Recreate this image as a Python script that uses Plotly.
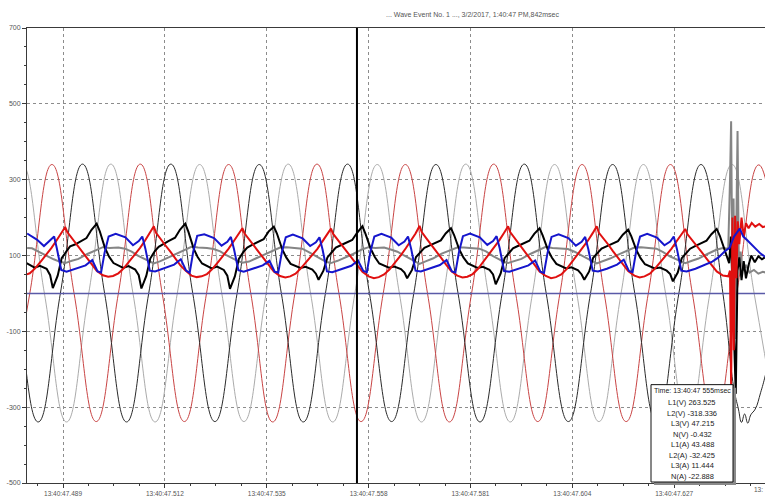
import plotly.graph_objects as go

# ---------------- time axis (ms within 13:40:47) ----------------
x_range = [480.87, 647.5]
tick_ms = [489, 512, 535, 558, 581, 604, 627]
tick_text = ["13:40:47.489", "13:40:47.512", "13:40:47.535", "13:40:47.558",
             "13:40:47.581", "13:40:47.604", "13:40:47.627"]
next_tick_text = "13:"
y_ticks = [-500, -300, -100, 100, 300, 500, 700]

cursor_ms = 555.37
title_text = "... Wave Event No. 1 ..., 3/2/2017, 1:40:47 PM,842msec"

# ---------------- voltages ----------------
l1v_t = [473.45, 478.4, 483.4, 488.4, 493.4, 498.4, 503.35, 508.35, 513.35, 518.3,
         523.3, 528.3, 533.3, 538.3, 543.25, 548.25, 553.25, 558.2, 563.2, 568.2,
         573.2, 578.2, 583.15, 588.15, 593.15, 598.1, 603.1, 608.1, 613.1, 618.1,
         623.05, 628.05, 633.05, 638.0,
         640.4, 641.5, 642.2, 642.9, 643.6, 644.3, 645.3, 646.5, 647.6, 650.0]
l1v = [340, 0, -339, 0, 341, 0, -339, 0, 341, 0,
       -338, 0, 340, 0, -339, 0, 341, 0, -338, 0,
       340, 0, -339, 0, 341, 0, -338, 0, 340, 0,
       -339, 0, 340, 0,
       -245, -305, -340, -318, -342, -320, -305, -262, -215, -90]

l2v_t = [476.5, 481.5, 486.5, 491.5, 496.5, 501.5, 506.45, 511.4, 516.4, 521.4,
         526.4, 531.4, 536.35, 541.35, 546.35, 551.3, 556.3, 561.3, 566.3, 571.3,
         576.25, 581.25, 586.25, 591.2, 596.2, 601.2, 606.2, 611.2, 616.15, 621.15,
         626.15, 631.1, 636.1, 641.1, 646.1, 651.1]
l2v = [-338, 0, 340, 0, -338, 0, 341, 0, -338, 0,
       340, 0, -339, 0, 341, 0, -338, 0, 340, 0,
       -339, 0, 341, 0, -338, 0, 340, 0, -338, 0,
       340, 0, -337, 0, 339, 0]

l3v_t = [474.8, 479.8, 484.8, 489.8, 494.8, 499.8, 504.8, 509.8, 514.8, 519.85,
         524.85, 529.85, 534.85, 539.85, 544.9, 549.9, 554.9, 559.95, 564.95, 569.95,
         574.95, 579.95, 585.0, 590.0, 595.0, 600.0, 605.0, 610.0, 615.0, 620.05,
         625.05, 630.05, 635.05, 640.05, 645.05, 650.05]
l3v = [0, 340, 0, -339, 0, 341, 0, -339, 0, 340,
       0, -338, 0, 341, 0, -339, 0, 340, 0, -339,
       0, 341, 0, -339, 0, 340, 0, -338, 0, 340,
       0, -339, 0, 340, 0, -339]

nv_t = [478.0, 650.0]
nv = [-0.4, -0.4]

# ---------------- currents ----------------
l1a_t = [480.4, 482.6, 483.8, 485.3, 486.1,
         486.7, 487.8, 488.7, 489.7, 490.6, 491.7, 492.8, 494.3, 495.4, 496.6, 497.3, 498.5, 499.4, 500.4, 502.6, 503.8, 505.3, 506.1,
         506.7, 507.8, 508.7, 509.7, 510.6, 511.7, 512.8, 514.3, 515.4, 516.6, 517.3, 518.5, 519.4, 520.4, 522.6, 523.8, 525.3, 526.1,
         526.7, 527.8, 528.7, 529.7, 530.6, 531.7, 532.8, 534.3, 535.4, 536.6, 537.3, 538.5, 539.4, 540.4, 542.6, 543.8, 545.3, 546.1,
         546.7, 547.8, 548.7, 549.7, 550.6, 551.7, 552.8, 554.3, 555.4, 556.6, 557.3, 558.5, 559.4, 560.4, 562.6, 563.8, 565.3, 566.1,
         566.7, 567.8, 568.7, 569.7, 570.6, 571.7, 572.8, 574.3, 575.4, 576.6, 577.3, 578.5, 579.4, 580.4, 582.6, 583.8, 585.3, 586.1,
         586.7, 587.8, 588.7, 589.7, 590.6, 591.7, 592.8, 594.3, 595.4, 596.6, 597.3, 598.5, 599.4, 600.4, 602.6, 603.8, 605.3, 606.1,
         606.7, 607.8, 608.7, 609.7, 610.6, 611.7, 612.8, 614.3, 615.4, 616.6, 617.3, 618.5, 619.4, 620.4, 622.6, 623.8, 625.3, 626.1,
         626.7, 627.8, 628.7, 629.7, 630.6, 631.7, 632.8, 634.3, 635.4, 636.6,
         637.3, 638.5, 639.4, 639.8, 640.3, 640.9, 641.3, 641.7, 642.2, 642.7, 643.2, 643.8, 644.4, 645.2, 646.0, 646.8, 647.6, 648.2]
l1a = [82, 68, 73, 65, 48,
       14, 47, 93, 110, 124, 129, 137, 146, 167, 184, 164, 119, 97, 80, 67, 72, 63, 48,
       13, 46, 92, 111, 123, 131, 138, 147, 168, 184, 163, 118, 96, 79, 66, 71, 62, 47,
       12, 45, 91, 109, 121, 128, 134, 143, 163, 176, 158, 116, 95, 78, 67, 70, 63, 52,
       36, 60, 95, 110, 121, 127, 133, 141, 160, 177, 157, 117, 96, 79, 68, 71, 64, 55,
       40, 62, 96, 110, 120, 126, 132, 140, 158, 172, 154, 115, 95, 79, 67, 70, 62, 50,
       24, 52, 93, 108, 119, 125, 131, 139, 157, 172, 153, 114, 94, 78, 66, 69, 61, 50,
       36, 58, 94, 108, 118, 124, 130, 138, 155, 168, 151, 113, 93, 77, 66, 68, 60, 51,
       32, 55, 93, 107, 118, 125, 131, 139, 156, 170,
       152, 112, 80, 150, -60, -265, 60, 95, 35, 85, 40, 75, 100, 82, 98, 90, 96, 92]

l2a_t = [478.5, 480.0, 481.5, 482.7, 484.1, 485.3, 486.4, 487.5, 488.6,
         489.5, 490.0, 491.0, 492.1, 493.2, 494.3, 495.5, 496.6, 498.0, 499.2, 500.3, 501.5, 502.7, 504.1, 505.3, 506.4, 507.5, 508.6,
         509.5, 510.0, 511.0, 512.1, 513.2, 514.3, 515.5, 516.6, 518.0, 519.2, 520.3, 521.5, 522.7, 524.1, 525.3, 526.4, 527.5, 528.6,
         529.5, 530.0, 531.0, 532.1, 533.2, 534.3, 535.5, 536.6, 538.0, 539.2, 540.3, 541.5, 542.7, 544.1, 545.3, 546.4, 547.5, 548.6,
         549.5, 550.0, 551.0, 552.1, 553.2, 554.3, 555.5, 556.6, 558.0, 559.2, 560.3, 561.5, 562.7, 564.1, 565.3, 566.4, 567.5, 568.6,
         569.5, 570.0, 571.0, 572.1, 573.2, 574.3, 575.5, 576.6, 578.0, 579.2, 580.3, 581.5, 582.7, 584.1, 585.3, 586.4, 587.5, 588.6,
         589.5, 590.0, 591.0, 592.1, 593.2, 594.3, 595.5, 596.6, 598.0, 599.2, 600.3, 601.5, 602.7, 604.1, 605.3, 606.4, 607.5, 608.6,
         609.5, 610.0, 611.0, 612.1, 613.2, 614.3, 615.5, 616.6, 618.0, 619.2, 620.3, 621.5, 622.7, 624.1, 625.3, 626.4, 627.5, 628.6,
         629.5, 630.0, 631.0, 632.1, 633.2, 634.3, 635.5, 636.6, 638.0, 639.2,
         639.6, 639.85, 640.15, 640.45, 640.75, 641.05, 641.35, 641.7, 642.2, 642.7, 643.2, 643.8, 644.5, 645.3, 646.2, 647.0, 648.0]
l2a = [46, 47, 53, 66, 86, 103, 120, 139, 158,
       175, 161, 146, 129, 112, 94, 76, 60, 48, 44, 46, 53, 66, 86, 103, 120, 139, 159,
       177, 160, 143, 127, 111, 92, 74, 61, 47, 43, 45, 51, 64, 84, 101, 118, 137, 157,
       172, 158, 144, 126, 109, 93, 75, 58, 46, 42, 45, 52, 66, 85, 100, 117, 136, 155,
       171, 157, 142, 125, 108, 91, 73, 57, 45, 40, 43, 50, 63, 83, 101, 119, 138, 158,
       178, 162, 146, 130, 112, 95, 76, 60, 47, 42, 44, 51, 65, 86, 104, 121, 140, 160,
       177, 161, 145, 128, 110, 93, 74, 58, 46, 40, 43, 50, 64, 85, 103, 120, 139, 159,
       177, 160, 146, 129, 111, 94, 76, 59, 47, 42, 45, 52, 66, 86, 102, 118, 137, 156,
       170, 156, 142, 126, 109, 92, 74, 58, 47, 45,
       60, -250, 200, -150, 205, 40, 190, 130, 200, 150, 185, 172, 186, 176, 183, 175, 178]

l3a_t = [480.9, 483.1, 484.7, 486.1, 487.0, 487.6,
         488.6, 489.8, 491.8, 494.1, 495.6, 496.8, 497.6, 498.4, 499.3, 500.9, 503.1, 504.8, 506.1, 506.9, 507.6,
         508.6, 509.8, 511.8, 514.1, 515.6, 516.8, 517.6, 518.4, 519.3, 520.9, 523.1, 524.8, 526.1, 526.9, 527.6,
         528.6, 529.8, 531.8, 534.1, 535.6, 536.8, 537.6, 538.4, 539.3, 540.9, 543.1, 544.8, 546.1, 546.9, 547.6,
         548.6, 549.8, 551.8, 554.1, 555.6, 556.8, 557.6, 558.4, 559.3, 560.9, 563.1, 564.8, 566.1, 566.9, 567.6,
         568.6, 569.8, 571.8, 574.1, 575.6, 576.8, 577.6, 578.4, 579.3, 580.9, 583.1, 584.8, 586.1, 586.9, 587.6,
         588.6, 589.8, 591.8, 594.1, 595.6, 596.8, 597.6, 598.4, 599.3, 600.9, 603.1, 604.8, 606.1, 606.9, 607.6,
         608.6, 609.8, 611.8, 614.1, 615.6, 616.8, 617.6, 618.4, 619.3, 620.9, 623.1, 624.8, 626.1, 626.9, 627.6,
         628.6, 629.8, 631.8, 634.1, 635.6, 637.0, 638.5, 639.5, 640.5, 641.8, 642.6, 643.5, 644.5, 645.5, 646.5, 647.5, 648.2]
l3a = [158, 142, 125, 139, 150, 119,
       62, 57, 64, 74, 88, 58, 55, 108, 150, 157, 148, 127, 138, 150, 118,
       60, 58, 66, 76, 90, 60, 54, 110, 152, 156, 146, 126, 136, 149, 117,
       61, 57, 64, 74, 86, 57, 55, 108, 148, 155, 145, 125, 135, 148, 116,
       58, 56, 63, 73, 87, 59, 56, 110, 150, 157, 147, 127, 137, 150, 118,
       60, 58, 65, 75, 88, 58, 55, 109, 151, 158, 148, 128, 138, 151, 119,
       59, 57, 64, 74, 87, 57, 54, 107, 149, 156, 146, 126, 136, 149, 117,
       60, 58, 65, 76, 89, 59, 56, 110, 150, 157, 147, 127, 137, 150, 118,
       60, 58, 65, 76, 84, 95, 112, 120, 150, 171, 150, 140, 128, 115, 105, 97, 94]

na_t = [480.9, 482.0, 483.8, 485.4, 486.9, 488.2,
        489.5, 491.0, 492.5, 494.5, 496.5, 498.0, 499.5, 501.5, 503.0, 504.5, 506.0, 507.5, 508.5,
        509.5, 511.0, 512.5, 514.5, 516.5, 518.0, 519.5, 521.5, 523.0, 524.5, 526.0, 527.5, 528.5,
        529.5, 531.0, 532.5, 534.5, 536.5, 538.0, 539.5, 541.5, 543.0, 544.5, 546.0, 547.5, 548.5,
        549.5, 551.0, 552.5, 554.5, 556.5, 558.0, 559.5, 561.5, 563.0, 564.5, 566.0, 567.5, 568.5,
        569.5, 571.0, 572.5, 574.5, 576.5, 578.0, 579.5, 581.5, 583.0, 584.5, 586.0, 587.5, 588.5,
        589.5, 591.0, 592.5, 594.5, 596.5, 598.0, 599.5, 601.5, 603.0, 604.5, 606.0, 607.5, 608.5,
        609.5, 611.0, 612.5, 614.5, 616.5, 618.0, 619.5, 621.5, 623.0, 624.5, 626.0, 627.5, 628.5,
        629.5, 631.0, 632.5, 634.5, 636.5, 638.0, 639.2, 639.6, 639.85, 640.1, 640.4, 640.7,
        641.0, 641.3, 641.6, 642.0, 642.5, 643.2, 644.0, 645.0, 646.0, 647.0, 648.0]
na = [120, 119, 108, 98, 90, 84,
      80, 86, 91, 104, 115, 122, 120, 121, 118, 110, 99, 91, 84,
      79, 85, 93, 105, 116, 123, 121, 120, 117, 111, 100, 90, 85,
      81, 84, 92, 103, 114, 121, 122, 119, 118, 109, 98, 89, 83,
      80, 86, 93, 104, 116, 122, 120, 121, 116, 110, 100, 91, 84,
      78, 85, 92, 105, 115, 121, 121, 120, 118, 111, 99, 90, 83,
      80, 86, 91, 104, 116, 123, 120, 119, 117, 110, 100, 91, 85,
      79, 85, 92, 103, 114, 121, 122, 120, 118, 109, 98, 90, 84,
      80, 86, 92, 104, 115, 120, 118, 300, 454, 80, 250, -120,
      160, 428, 70, 110, 60, 75, 55, 62, 52, 57, 54]

# ---------------- cursor readout ----------------
readout_names = ["L1(V)", "L2(V)", "L3(V)", "N(V)", "L1(A)", "L2(A)", "L3(A)", "N(A)"]
readout_values = ["263.525", "-318.336", "47.215", "-0.432", "43.488", "-32.425", "11.444", "-22.888"]
readout_time = "13:40:47 555msec"

fig = go.Figure()

def add_wave(t, v, color, width, name, shape="linear"):
    fig.add_trace(go.Scatter(
        x=t, y=v, mode="lines", name=name, hoverinfo="skip", showlegend=False,
        line=dict(color=color, width=width, shape=shape,
                  smoothing=1.3 if shape == "spline" else None),
    ))

# thin voltage traces
add_wave(l3v_t, l3v, "#ababab", 1, "L3(V)", "spline")
add_wave(l2v_t, l2v, "#c94444", 1, "L2(V)", "spline")
add_wave(l1v_t, l1v, "#2a2a2a", 1, "L1(V)", "spline")
add_wave(nv_t, nv, "#5a5aa8", 1.5, "N(V)")

# thick current traces
add_wave(na_t, na, "#858585", 2, "N(A)")
add_wave(l1a_t, l1a, "#000000", 2, "L1(A)")
add_wave(l2a_t, l2a, "#e01010", 2, "L2(A)")
add_wave(l3a_t, l3a, "#1515cc", 2, "L3(A)")

# cursor line
fig.add_shape(type="line", xref="x", yref="paper", x0=cursor_ms, x1=cursor_ms,
              y0=0, y1=1, line=dict(color="#000000", width=2), layer="above")

# plot-area geometry (pixels) used for placing the overlays
W, H = 765, 497
ML, MR, MT, MB = 27, 0, 28, 11
PW, PH = W - ML - MR, H - MT - MB

def px(xp):
    return (xp - ML) / PW

def py(yp):
    return (H - MB - yp) / PH

# readout box: shadow, frame, then one text line per channel
box_l, box_t, box_w, box_h = 651, 387, 82, 98
fig.add_shape(type="rect", xref="paper", yref="paper",
              x0=px(box_l + 3), x1=px(box_l + box_w + 3),
              y0=py(box_t + box_h + 3), y1=py(box_t + 3),
              fillcolor="#8a8a8a", line=dict(width=0), layer="above")
fig.add_shape(type="rect", xref="paper", yref="paper",
              x0=px(box_l), x1=px(box_l + box_w),
              y0=py(box_t + box_h), y1=py(box_t),
              fillcolor="#ffffff", line=dict(color="#111111", width=1), layer="above")

readout_lines = ["Time: " + readout_time] + [
    f"{n} {v}" for n, v in zip(readout_names, readout_values)]
line_y = [392.5] + [405 + 10.57 * i for i in range(len(readout_names))]
for i, (txt, yy) in enumerate(zip(readout_lines, line_y)):
    fig.add_annotation(
        xref="paper", yref="paper", x=px(box_l + box_w / 2), y=py(yy),
        xanchor="center", yanchor="middle", showarrow=False, text=txt,
        font=dict(family="Liberation Sans, Arial", size=7 if i == 0 else 7.5,
                  color="#222222"),
    )

# title
fig.add_annotation(xref="paper", yref="paper", x=px(472), y=py(14),
                   xanchor="center", yanchor="middle", showarrow=False,
                   text=title_text,
                   font=dict(family="Liberation Sans, Arial", size=7, color="#555555"))

# start of the next time label at the right edge
fig.add_annotation(xref="paper", yref="paper", x=px(765), y=py(493),
                   xanchor="right", yanchor="middle", showarrow=False,
                   text=next_tick_text,
                   font=dict(family="Liberation Sans, Arial", size=6.5, color="#555555"))

grid = dict(showgrid=True, gridcolor="#8c8c8c", gridwidth=1, griddash="3px,3px")

fig.update_layout(
    width=W, height=H,
    margin=dict(l=ML, r=MR, t=MT, b=MB, pad=0),
    paper_bgcolor="#ffffff", plot_bgcolor="#ffffff",
    showlegend=False,
    xaxis=dict(range=x_range, tickmode="array", tickvals=tick_ms, ticktext=tick_text,
               zeroline=False, showline=True, linecolor="#3a3a3a", linewidth=1,
               mirror=True, ticks="outside", ticklen=4, tickcolor="#3a3a3a",
               tickfont=dict(family="Liberation Sans, Arial", size=6.5, color="#555555"),
               minor=dict(tick0=489, dtick=5.75, ticks="outside", ticklen=2,
                          tickcolor="#3a3a3a", showgrid=False),
               **grid),
    yaxis=dict(range=[-500, 700], tickmode="array", tickvals=y_ticks,
               ticktext=[str(v) for v in y_ticks],
               zeroline=False, showline=True, linecolor="#3a3a3a", linewidth=1,
               ticks="outside", ticklen=4, tickcolor="#3a3a3a",
               tickfont=dict(family="Liberation Sans, Arial", size=7, color="#555555"),
               minor=dict(tick0=-500, dtick=50, ticks="outside", ticklen=2,
                          tickcolor="#3a3a3a", showgrid=False),
               **grid),
)

fig.write_html("out.html")
